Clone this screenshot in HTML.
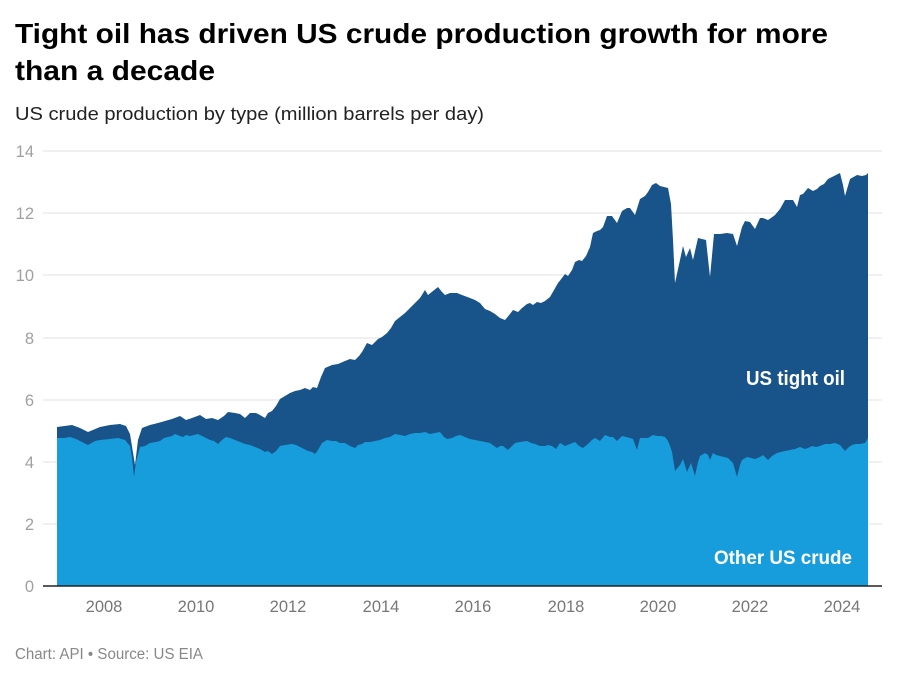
<!DOCTYPE html>
<html>
<head>
<meta charset="utf-8">
<style>
  html, body { margin: 0; padding: 0; background: #ffffff; }
  body { width: 900px; height: 678px; overflow: hidden; }
  svg { display: block; }
  text { font-family: "Liberation Sans", "DejaVu Sans", sans-serif; }
</style>
</head>
<body>
<svg width="900" height="678" viewBox="0 0 900 678" xmlns="http://www.w3.org/2000/svg">
  <rect x="0" y="0" width="900" height="678" fill="#ffffff"/>

  <!-- Title -->
  <text x="15" y="43" font-size="28" font-weight="bold" fill="#000" textLength="813" lengthAdjust="spacingAndGlyphs">Tight oil has driven US crude production growth for more</text>
  <text x="15" y="80" font-size="28" font-weight="bold" fill="#000" textLength="200" lengthAdjust="spacingAndGlyphs">than a decade</text>

  <!-- Subtitle -->
  <text x="15" y="120" font-size="18" fill="#222" textLength="469" lengthAdjust="spacingAndGlyphs">US crude production by type (million barrels per day)</text>

  <!-- Gridlines -->
  <g stroke="#e6e6e6" stroke-width="1.2">
    <line x1="43" y1="151" x2="882" y2="151"/>
    <line x1="43" y1="213" x2="882" y2="213"/>
    <line x1="43" y1="275" x2="882" y2="275"/>
    <line x1="43" y1="338" x2="882" y2="338"/>
    <line x1="43" y1="400" x2="882" y2="400"/>
    <line x1="43" y1="462" x2="882" y2="462"/>
    <line x1="43" y1="524" x2="882" y2="524"/>
  </g>

  <!-- Y labels -->
  <g font-size="16.5" fill="#a0a0a0" text-anchor="end">
    <text x="34" y="157">14</text>
    <text x="34" y="219">12</text>
    <text x="34" y="281">10</text>
    <text x="34" y="344">8</text>
    <text x="34" y="406">6</text>
    <text x="34" y="468">4</text>
    <text x="34" y="530">2</text>
    <text x="34" y="592">0</text>
  </g>

  <!-- Total (tight oil on top) -->
  <polygon fill="#18548a" points="57,586 57,427 72,425 80,428 88,432 100,427 110,425 120,424 126,426 130,434 135,465 138,440 142,428 150,425 158,423 165,421 172,419 180,416 186,420 192,418 200,415 206,419 212,418 218,420 224,416 228,412 235,413 240,414 245,418 250,413 256,413 260,415 265,418 268,413 272,411 276,406 280,399 285,396 290,393 295,391 300,390 305,388 310,390 313,387 317,388 321,377 325,368 332,365 338,364 345,361 350,359 355,360 359,356 362,352 367,343 372,345 378,339 382,337 387,333 391,328 395,321 400,317 405,313 410,308 415,303 420,298 425,290 428,295 433,291 438,287 442,292 445,295 450,293 457,293 462,295 470,298 475,300 480,303 485,309 490,311 495,314 500,318 505,320 510,314 513,310 518,312 522,308 527,304 530,303 533,305 537,302 541,303 545,301 550,297 554,290 558,283 562,278 565,274 568,276 572,270 575,262 579,260 582,261 586,256 590,247 593,233 597,231 600,230 603,227 607,216 612,216 617,223 622,211 627,208 630,208 635,215 640,199 645,196 648,192 652,185 656,183 660,186 664,187 668,188 671,204 673,240 675,283 680,260 683,246 686,257 690,248 693,260 698,238 702,239 706,240 710,277 714,234 720,234 727,233 733,234 737,246 742,227 745,221 750,222 755,229 760,218 763,218 768,220 771,218 775,215 780,209 785,200 790,200 793,200 797,207 800,195 803,194 808,188 813,191 817,189 820,186 824,184 828,179 834,176 840,173 843,185 845,196 850,179 857,175 862,176 866,175 868,173 868,586"/>

  <!-- Other US crude -->
  <polygon fill="#189ddc" points="57,586 57,438 64,438 70,437 76,439 82,442 88,445 95,441 100,440 110,439 118,438 125,440 130,446 132,458 134,477 136,462 140,447 145,446 150,443 156,442 160,441 164,438 168,437 172,436 175,434 180,436 183,437 186,435 190,436 194,435 198,434 204,437 210,440 214,441 218,444 222,440 226,437 230,438 235,440 240,442 245,444 250,445 255,447 260,449 265,452 268,451 272,454 276,451 280,446 285,445 292,444 296,445 300,447 304,449 308,451 312,452 315,454 318,450 322,443 327,440 332,441 336,441 340,443 345,443 350,446 355,448 358,445 362,444 365,442 370,442 375,441 380,440 385,438 390,437 395,434 400,435 405,436 410,434 415,433 420,433 425,432 430,434 435,433 440,432 444,437 447,439 452,438 456,436 460,435 465,437 470,439 475,440 480,441 485,442 490,443 494,446 497,448 500,446 503,446 508,450 512,446 515,443 520,442 527,441 531,443 535,444 540,446 545,446 548,445 552,446 556,449 560,443 565,446 570,444 575,442 579,446 583,448 588,444 592,440 595,438 600,441 605,435 610,437 613,437 617,441 622,436 626,437 630,438 633,439 637,450 640,438 644,438 648,438 653,435 657,436 661,436 665,437 668,441 670,446 672,452 675,471 680,465 683,459 687,472 691,463 695,476 698,462 700,456 705,453 708,455 710,460 713,453 716,455 720,456 724,457 728,458 733,463 737,477 740,465 742,460 747,457 751,458 755,459 760,457 763,455 768,460 772,456 777,453 781,452 785,451 790,450 795,449 800,447 805,449 808,448 812,446 816,447 820,446 825,444 830,444 835,443 840,445 845,451 849,447 852,445 856,444 860,444 865,443 867,440 868,438 868,586"/>

  <!-- Axis line -->
  <line x1="43" y1="586" x2="882" y2="586" stroke="#222" stroke-width="1.5"/>

  <!-- X labels -->
  <g font-size="16.5" fill="#777" text-anchor="middle">
    <text x="104" y="612">2008</text>
    <text x="196" y="612">2010</text>
    <text x="288" y="612">2012</text>
    <text x="381" y="612">2014</text>
    <text x="473" y="612">2016</text>
    <text x="566" y="612">2018</text>
    <text x="658" y="612">2020</text>
    <text x="750" y="612">2022</text>
    <text x="842" y="612">2024</text>
  </g>

  <!-- Series labels -->
  <text x="746" y="385" font-size="20" font-weight="bold" fill="#ffffff" textLength="99" lengthAdjust="spacingAndGlyphs">US tight oil</text>
  <text x="714" y="564" font-size="19.5" font-weight="bold" fill="#ffffff" textLength="138" lengthAdjust="spacingAndGlyphs">Other US crude</text>

  <!-- Footer -->
  <text x="15" y="659" font-size="15.5" fill="#888" textLength="188" lengthAdjust="spacingAndGlyphs">Chart: API • Source: US EIA</text>
</svg>
</body>
</html>
